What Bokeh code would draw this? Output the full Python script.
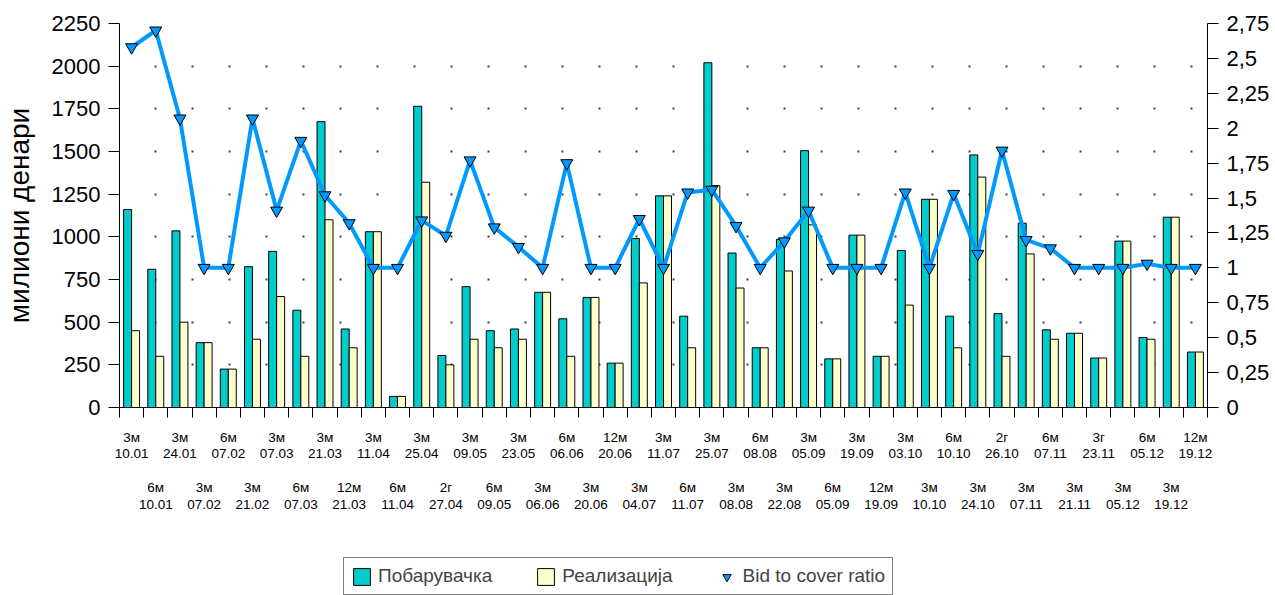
from bokeh.plotting import figure
from bokeh.layouts import column
from bokeh.models import (Range1d, LinearAxis, FixedTicker, CustomJSTickFormatter,
                          Legend, LegendItem, ColumnDataSource)
from bokeh.embed import file_html
from bokeh.resources import INLINE

# ---------------- data ----------------
maturities = ["3м", "6м", "3м", "3м", "6м", "3м", "3м", "6м", "3м", "12м",
              "3м", "6м", "3м", "2г", "3м", "6м", "3м", "3м", "6м", "3м",
              "12м", "3м", "3м", "6м", "3м", "3м", "6м", "3м", "3м", "6м",
              "3м", "12м", "3м", "3м", "6м", "3м", "2г", "3м", "6м", "3м",
              "3г", "3м", "6м", "3м", "12м"]
dates = ["10.01", "10.01", "24.01", "07.02", "07.02", "21.02", "07.03", "07.03", "21.03", "21.03",
         "11.04", "11.04", "25.04", "27.04", "09.05", "09.05", "23.05", "06.06", "06.06", "20.06",
         "20.06", "04.07", "11.07", "11.07", "25.07", "08.08", "08.08", "22.08", "05.09", "05.09",
         "19.09", "19.09", "03.10", "10.10", "10.10", "24.10", "26.10", "07.11", "07.11", "21.11",
         "23.11", "05.12", "05.12", "19.12", "19.12"]
demand = [1160, 810, 1035, 380, 225, 825, 915, 570, 1675, 460,
          1030, 65, 1765, 305, 708, 450, 460, 675, 520, 645,
          260, 990, 1240, 535, 2020, 905, 350, 985, 1505, 285,
          1010, 300, 920, 1220, 535, 1480, 550, 1080, 455, 435,
          290, 975, 410, 1115, 325]
realized = [450, 300, 500, 380, 225, 400, 650, 300, 1100, 350,
            1030, 65, 1320, 250, 400, 350, 400, 675, 300, 645,
            260, 730, 1240, 350, 1300, 700, 350, 800, 1070, 285,
            1010, 300, 600, 1220, 350, 1350, 300, 900, 400, 435,
            290, 975, 400, 1115, 325]
ratio = [2.58, 2.70, 2.07, 1.00, 1.00, 2.07, 1.41, 1.91, 1.52, 1.32,
         1.00, 1.00, 1.34, 1.23, 1.77, 1.29, 1.15, 1.00, 1.75, 1.00,
         1.00, 1.35, 1.00, 1.54, 1.56, 1.30, 1.00, 1.19, 1.41, 1.00,
         1.00, 1.00, 1.54, 1.00, 1.53, 1.10, 1.84, 1.20, 1.14, 1.00,
         1.00, 1.00, 1.03, 1.00, 1.00]
left_ticks = [0, 250, 500, 750, 1000, 1250, 1500, 1750, 2000, 2250]
right_ticks = [0, 0.25, 0.5, 0.75, 1, 1.25, 1.5, 1.75, 2, 2.25, 2.5, 2.75]
right_tick_labels = ["0", "0,25", "0,5", "0,75", "1", "1,25", "1,5", "1,75",
                     "2", "2,25", "2,5", "2,75"]

n = len(demand)
idx = list(range(n))
# even categories on the first label row, odd ones on the second row
x_labels = [(m + "\n" + d) if i % 2 == 0 else ("\n\n\n" + m + "\n" + d)
            for i, (m, d) in enumerate(zip(maturities, dates))]

src = ColumnDataSource(dict(
    xc=[i + 0.5 for i in idx],
    xd=[i + 0.335 for i in idx],
    xr=[i + 0.665 for i in idx],
    demand=demand, realized=realized, ratio=ratio,
))

FONT = "Liberation Sans"
CYAN = "#00CCCC"
YELLOW = "#FFFFCC"
BLUE = "#0099FF"
W = 1272

p = figure(width=W, height=537, x_range=Range1d(0, n), y_range=Range1d(0, 2250),
           output_backend="svg", toolbar_location=None,
           min_border_left=117, min_border_right=65, min_border_top=23, min_border_bottom=130)
p.outline_line_color = None
p.background_fill_color = "white"
p.extra_y_ranges = {"ratio": Range1d(0, 2.75)}

# grid
p.xgrid.visible = False
p.ygrid.ticker = FixedTicker(ticks=left_ticks)
p.ygrid.grid_line_color = "black"
p.ygrid.grid_line_width = 2
p.ygrid.grid_line_dash = "2 35"
p.ygrid.grid_line_dash_offset = 2
p.ygrid.grid_line_alpha = 0.75

# left axis
ya = p.yaxis[0]
ya.ticker = FixedTicker(ticks=left_ticks)
ya.axis_label = "милиони денари"
ya.axis_label_text_font = FONT
ya.axis_label_text_font_size = "28px"
ya.axis_label_text_font_style = "normal"
ya.axis_label_text_color = "black"
ya.axis_label_standoff = 14
ya.major_label_text_font = FONT
ya.major_label_text_font_size = "22px"
ya.major_label_text_color = "black"
ya.major_tick_out = 11
ya.major_tick_in = 0
ya.minor_tick_out = 0
ya.minor_tick_in = 0
ya.major_label_standoff = 8
ya.axis_line_color = "black"
ya.major_tick_line_color = "black"

# right axis
ra = LinearAxis(y_range_name="ratio", ticker=FixedTicker(ticks=right_ticks),
                formatter=CustomJSTickFormatter(
                    args=dict(tvals=right_ticks, tlabels=right_tick_labels),
                    code="const i = tvals.findIndex(t => Math.abs(t - tick) < 1e-9); return i >= 0 ? tlabels[i] : '';"))
ra.major_label_text_font = FONT
ra.major_label_text_font_size = "22px"
ra.major_label_text_color = "black"
ra.major_tick_out = 11
ra.major_tick_in = 0
ra.minor_tick_out = 0
ra.minor_tick_in = 0
ra.major_label_standoff = 8
ra.axis_line_color = "black"
p.add_layout(ra, "right")

# x axis: labels at category centres, tick marks at boundaries
xa = p.xaxis[0]
xa.ticker = FixedTicker(ticks=[i + 0.5 for i in idx], minor_ticks=list(range(n + 1)))
xa.formatter = CustomJSTickFormatter(args=dict(xlabels=x_labels),
                                     code="return xlabels[Math.round(tick - 0.5)];")
xa.major_tick_out = 0
xa.major_tick_in = 0
xa.minor_tick_out = 10
xa.minor_tick_in = 0
xa.minor_tick_line_color = "black"
xa.major_label_standoff = 12
xa.major_label_text_font = FONT
xa.major_label_text_font_size = "13.5px"
xa.major_label_text_line_height = 1.12
xa.major_label_text_color = "black"
xa.axis_line_color = "black"

# bars
p.vbar(x="xd", top="demand", bottom=0, width=0.33, source=src,
       fill_color=CYAN, line_color="black", line_width=1)
p.vbar(x="xr", top="realized", bottom=0, width=0.33, source=src,
       fill_color=YELLOW, line_color="black", line_width=1)

# ratio line
p.line(x="xc", y="ratio", source=src, y_range_name="ratio",
       line_color=BLUE, line_width=4)
p.scatter(x="xc", y="ratio", source=src, y_range_name="ratio",
          marker="inverted_triangle", size=12,
          fill_color=BLUE, line_color="black", line_width=1)

# ---------------- legend strip below the chart ----------------
lg = figure(width=W, height=58, x_range=Range1d(0, 1), y_range=Range1d(0, 1),
            output_backend="svg", toolbar_location=None,
            x_axis_type=None, y_axis_type=None,
            min_border_left=0, min_border_right=0, min_border_top=0, min_border_bottom=0)
lg.outline_line_color = None
lg.xgrid.visible = False
lg.ygrid.visible = False
# legend-key proxies: one row each, lying outside the strip's visible range
proxy = ColumnDataSource(dict(x=[-5], y=[-5]))
k_dem = lg.vbar(x="x", top="y", width=0.1, source=proxy,
                fill_color=CYAN, line_color="black", line_width=1)
k_real = lg.vbar(x="x", top="y", width=0.1, source=proxy,
                 fill_color=YELLOW, line_color="black", line_width=1)
k_mark = lg.scatter(x="x", y="y", source=proxy, marker="inverted_triangle", size=12,
                    fill_color=BLUE, line_color="black", line_width=1)

legend = Legend(items=[LegendItem(label="Побарувачка", renderers=[k_dem]),
                       LegendItem(label="Реализација", renderers=[k_real]),
                       LegendItem(label="Bid to cover ratio", renderers=[k_mark])],
                location=(224, 0), orientation="horizontal",
                border_line_color="black", border_line_width=1,
                background_fill_color="white", background_fill_alpha=1,
                padding=7, spacing=43, margin=0,
                glyph_width=21, glyph_height=21, label_height=21,
                label_standoff=6,
                label_text_font=FONT, label_text_font_size="19px")
lg.add_layout(legend)

layout = column(p, lg, spacing=0)
open("out.html", "w").write(file_html(layout, INLINE))
